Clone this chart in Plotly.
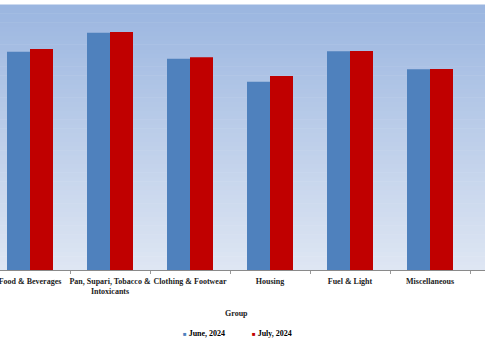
import plotly.graph_objects as go

categories = ["Food & Beverages", "Pan, Supari, Tobacco &<br>Intoxicants", "Clothing & Footwear",
              "Housing", "Fuel & Light", "Miscellaneous"]
june_2024 = [148.3, 161.2, 143.5, 127.9, 148.6, 136.3]
july_2024 = [150.1, 161.7, 144.5, 131.8, 148.8, 136.5]
series_names = ["June, 2024", "July, 2024"]
series_colors = ["#4F81BD", "#C00000"]

font_family = "Liberation Serif, Times New Roman, serif"

fig = go.Figure()
for name, vals, col in zip(series_names, [june_2024, july_2024], series_colors):
    fig.add_trace(go.Bar(x=categories, y=vals, name=name, marker=dict(color=col, line=dict(width=0)),
                         showlegend=False))

# vertical gradient background of plot area
top = (155, 182, 224)
bot = (222, 230, 243)
n = 60
shapes = []
for i in range(n):
    t = i / (n - 1)
    c = tuple(round(bot[k] + (top[k] - bot[k]) * t) for k in range(3))
    shapes.append(dict(type="rect", xref="paper", yref="paper", x0=0, x1=1,
                       y0=i / n, y1=(i + 1) / n + 0.002, fillcolor="rgb(%d,%d,%d)" % c,
                       line=dict(width=0), layer="below"))

# legend drawn as annotations (small square + label)
legend_x = [0.373, 0.515]
annotations = [dict(text="Group", xref="paper", yref="paper", x=0.488, y=-0.165,
                    showarrow=False, font=dict(family=font_family, size=8, color="#222", weight="bold"),
                    xanchor="center", yanchor="middle")]
for name, col, lx in zip(series_names, series_colors, legend_x):
    annotations.append(dict(text="<span style='color:%s;font-size:6px'>■</span> <span style='color:#000'>%s</span>" % (col, name),
                            xref="paper", yref="paper", x=lx, y=-0.24, xanchor="left", yanchor="middle",
                            showarrow=False,
                            font=dict(family=font_family, size=8, color="#000", weight="bold")))

fig.update_layout(
    width=485, height=360,
    margin=dict(l=0, r=0, t=5, b=90, autoexpand=False),
    paper_bgcolor="white",
    plot_bgcolor="rgba(0,0,0,0)",
    barmode="group", bargap=0.425, bargroupgap=0,
    shapes=shapes,
    showlegend=False,
    font=dict(family=font_family, size=8, color="#222", weight="bold"),
    xaxis=dict(range=[-0.375, 5.6875], tickson="boundaries", ticks="outside", ticklen=3,
               tickcolor="#999", showline=True, linecolor="#8a8a8a", linewidth=1,
               tickangle=0, automargin=False, ticklabelstandoff=3,
               showgrid=False, tickfont=dict(family=font_family, size=8, color="#222", weight="bold")),
    yaxis=dict(range=[0, 180], visible=False, showgrid=False, automargin=False),
    annotations=annotations,
)

fig.write_html("out.html", config={"displayModeBar": False},
               post_script="document.body.style.margin='0';")
